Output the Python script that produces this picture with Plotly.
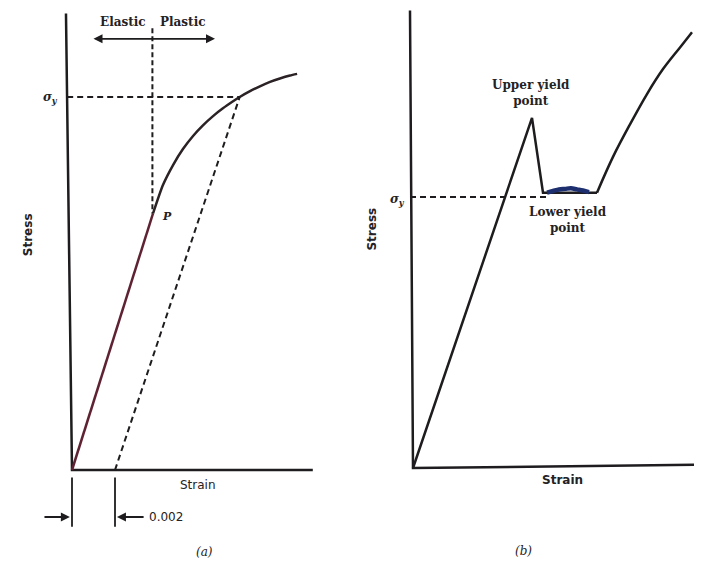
import plotly.graph_objects as go

# ---------------- Panel (a): offset yield-strength method ----------------
# strain (-), stress (MPa)
strain_a_elastic = [0.0, 0.00377]
stress_a_elastic = [0, 172]
strain_a_plastic = [0.00377, 0.00423, 0.0047, 0.00516, 0.00563, 0.00609, 0.00656, 0.00702,
                    0.00749, 0.0078, 0.00828, 0.00874, 0.00921, 0.00967, 0.01014, 0.01047]
stress_a_plastic = [172, 191, 204.4, 215.1, 223.9, 231, 237.2, 242.4,
                    247.1, 250, 253.9, 257.2, 260.1, 262.4, 264.4, 265.5]
offset_strain = 0.002
sigma_y_a = 250
yield_strain_a = 0.0078
p_strain = 0.00377
p_stress = 172
axis_a_x_end = 0.0112
axis_a_y_top = 306
axis_a_y_top_x = -0.00028

# ---------------- Panel (b): upper / lower yield point ----------------
# strain (arbitrary units), stress (MPa)
strain_b_lin = [0.0, 1.19, 1.30, 1.84]
stress_b_lin = [0, 323, 254, 254]
strain_b_hard = [1.84, 2.00, 2.17, 2.34, 2.50, 2.67, 2.79]
stress_b_hard = [254, 287, 317, 345, 368, 388, 402]
plateau_strain = [1.34, 1.40, 1.46, 1.52, 1.58, 1.64, 1.70, 1.76]
plateau_stress = [254, 255.5, 257, 257.5, 258, 257, 256, 254.5]
sigma_y_b = 250
axis_b_x_end = 2.89
axis_b_x_end_y = 3
axis_b_y_top = 422
axis_b_y_top_x = -0.03

INK = "#1e1c1e"
TXT = "#242224"

# page geometry (the page body adds an 8px offset)
OFF = 8
W, H = 702 - OFF, 561 - OFF

def xdom(x0, x1):
    return [(x0 - OFF) / W, (x1 - OFF) / W]

fig = go.Figure()

# ---- panel a traces
fig.add_trace(go.Scatter(x=[axis_a_y_top_x, 0, axis_a_x_end], y=[axis_a_y_top, 0, 0],
                         mode="lines", line=dict(color=INK, width=2.5), xaxis="x", yaxis="y"))
fig.add_trace(go.Scatter(x=strain_a_elastic, y=stress_a_elastic, mode="lines",
                         line=dict(color="#5e2232", width=2.5), xaxis="x", yaxis="y"))
fig.add_trace(go.Scatter(x=strain_a_plastic, y=stress_a_plastic, mode="lines",
                         line=dict(color="#2b2226", width=2.5, shape="spline", smoothing=0.6),
                         xaxis="x", yaxis="y"))
fig.add_trace(go.Scatter(x=[offset_strain, yield_strain_a], y=[0, sigma_y_a], mode="lines",
                         line=dict(color=INK, width=2, dash="6px,4px"), xaxis="x", yaxis="y"))
fig.add_trace(go.Scatter(x=[axis_a_y_top_x * 0.8, yield_strain_a], y=[sigma_y_a, sigma_y_a], mode="lines",
                         line=dict(color=INK, width=2, dash="6px,4px"), xaxis="x", yaxis="y"))
fig.add_trace(go.Scatter(x=[p_strain - 0.00003, p_strain - 0.00003], y=[296, p_stress], mode="lines",
                         line=dict(color=INK, width=2, dash="5px,3px"), xaxis="x", yaxis="y"))
for sx in [0.0, offset_strain]:
    fig.add_trace(go.Scatter(x=[sx, sx], y=[-5, -38], mode="lines",
                             line=dict(color=INK, width=1.8), xaxis="x", yaxis="y"))

# ---- panel b traces
fig.add_trace(go.Scatter(x=[axis_b_y_top_x, 0, axis_b_x_end], y=[axis_b_y_top, 0, axis_b_x_end_y],
                         mode="lines", line=dict(color=INK, width=2.5), xaxis="x2", yaxis="y2"))
fig.add_trace(go.Scatter(x=[axis_b_y_top_x, plateau_strain[0]], y=[sigma_y_b, sigma_y_b], mode="lines",
                         line=dict(color=INK, width=2, dash="6px,4px"), xaxis="x2", yaxis="y2"))
fig.add_trace(go.Scatter(x=strain_b_lin, y=stress_b_lin, mode="lines",
                         line=dict(color=INK, width=2.5), xaxis="x2", yaxis="y2"))
fig.add_trace(go.Scatter(x=strain_b_hard, y=stress_b_hard, mode="lines",
                         line=dict(color=INK, width=2.5, shape="spline", smoothing=1.0),
                         xaxis="x2", yaxis="y2"))
fig.add_trace(go.Scatter(x=plateau_strain, y=plateau_stress, mode="lines",
                         line=dict(color="#1d2f6e", width=4.5, shape="spline"), xaxis="x2", yaxis="y2"))

ann = []
def txt(x, y, s, xr, yr, size=12, family="DejaVu Sans", bold=True, italic=False,
        angle=0, xanchor="center", yanchor="middle"):
    t = s
    if bold:
        t = "<b>" + t + "</b>"
    if italic:
        t = "<i>" + t + "</i>"
    ann.append(dict(x=x, y=y, xref=xr, yref=yr, text=t, showarrow=False, textangle=angle,
                    xanchor=xanchor, yanchor=yanchor,
                    font=dict(family=family, size=size, color=TXT)))

def arrow(x, y, ax, ay, xr, yr, side="end"):
    ann.append(dict(x=x, y=y, ax=ax, ay=ay, xref=xr, yref=yr, axref=xr, ayref=yr, text="",
                    showarrow=True, arrowhead=2, arrowsize=1, arrowwidth=1.8, arrowcolor=INK,
                    arrowside=side, font=dict(size=12)))

# panel a text
txt(0.00237, 300, "Elastic", "x", "y", size=12, family="DejaVu Serif")
txt(0.00516, 300, "Plastic", "x", "y", size=12, family="DejaVu Serif")
arrow(0.00665, 289, 0.00093, 289, "x", "y", side="end+start")
txt(-0.00102, 249, "σ<sub>y</sub>", "x", "y", size=12, family="DejaVu Serif", italic=True)
txt(0.00442, 170, "P", "x", "y", size=11, family="DejaVu Serif", italic=True)
txt(-0.00205, 158, "Stress", "x", "y", size=12, angle=-90)
txt(0.00586, -10, "Strain", "x", "y", size=12, bold=False)
arrow(-0.0001, -31.5, -0.00135, -31.5, "x", "y")
arrow(0.00209, -31.5, 0.0034, -31.5, "x", "y")
txt(0.0035, -31.5, "0.002", "x", "y", size=12, bold=False, xanchor="left")
txt(0.00614, -55, "(a)", "x", "y", size=12, family="DejaVu Serif", bold=False, italic=True)

# panel b text
txt(1.18, 346, "Upper yield<br>point", "x2", "y2", size=12, family="DejaVu Serif")
txt(1.55, 229, "Lower yield<br>point", "x2", "y2", size=12, family="DejaVu Serif")
txt(-0.16, 247, "σ<sub>y</sub>", "x2", "y2", size=12, family="DejaVu Serif", italic=True)
txt(-0.41, 220, "Stress", "x2", "y2", size=12, angle=-90)
txt(1.49, -11, "Strain", "x2", "y2", size=12)
txt(1.10, -77, "(b)", "x2", "y2", size=12, family="DejaVu Serif", bold=False, italic=True)

# panel a pixel mapping: origin (72, 470), 21500 px/strain, 1.492 px/MPa
# panel b pixel mapping: origin (413, 468), 100 px/unit, 1.084 px/MPa
ax_common = dict(visible=False, showgrid=False, zeroline=False, fixedrange=True)
fig.update_layout(
    width=W, height=H, autosize=False,
    margin=dict(l=0, r=0, t=0, b=0),
    paper_bgcolor="white", plot_bgcolor="white",
    showlegend=False,
    xaxis=dict(ax_common, domain=xdom(OFF, 340), range=[(OFF - 72) / 21500, (340 - 72) / 21500]),
    yaxis=dict(ax_common, domain=[0, 1], range=[(470 - 561) / 1.492, (470 - OFF) / 1.492]),
    xaxis2=dict(ax_common, domain=xdom(340, 702), range=[(340 - 413) / 100, (702 - 413) / 100], anchor="y2"),
    yaxis2=dict(ax_common, domain=[0, 1], range=[(468 - 561) / 1.084, (468 - OFF) / 1.084], anchor="x2"),
    annotations=ann,
)

fig.write_html("out.html")
